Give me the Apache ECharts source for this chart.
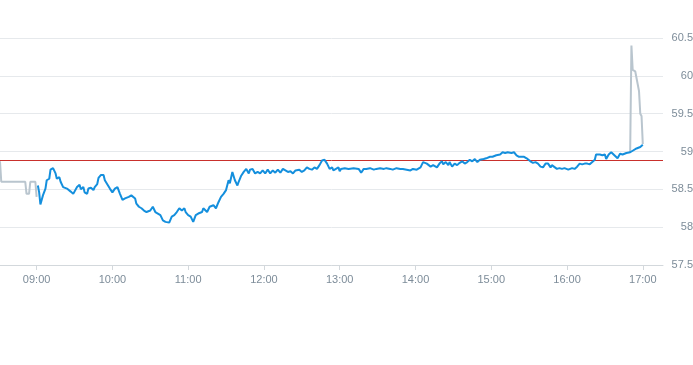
<!DOCTYPE html>
<html>
<head>
<meta charset="utf-8">
<script src="https://cdn.jsdelivr.net/npm/echarts@6/dist/echarts.min.js"></script>
<style>html,body{margin:0;padding:0;background:#fff}#c{width:693px;height:365px}</style>
</head>
<body>
<div id="c"></div>
<script>
// Regular session (blue)
const sessionTimes = ["09:01","09:02","09:03","09:05","09:07","09:08","09:10","09:11","09:13","09:15","09:16","09:18","09:19","09:21","09:22","09:24","09:25","09:27","09:29","09:30","09:32","09:34","09:35","09:37","09:38","09:40","09:41","09:43","09:45","09:46","09:48","09:49","09:51","09:53","09:54","09:55","09:58","10:00","10:02","10:04","10:06","10:08","10:10","10:13","10:15","10:16","10:18","10:19","10:21","10:23","10:25","10:27","10:30","10:32","10:34","10:36","10:38","10:40","10:42","10:43","10:45","10:47","10:49","10:51","10:53","10:55","10:57","10:58","11:00","11:02","11:04","11:06","11:08","11:11","11:12","11:15","11:17","11:20","11:22","11:24","11:26","11:28","11:30","11:32","11:33","11:35","11:36","11:37","11:39","11:40","11:42","11:44","11:46","11:48","11:49","11:51","11:53","11:55","11:57","11:59","12:01","12:03","12:05","12:07","12:09","12:11","12:13","12:15","12:17","12:19","12:21","12:23","12:25","12:26","12:28","12:30","12:31","12:32","12:34","12:36","12:38","12:40","12:42","12:44","12:46","12:47","12:48","12:50","12:51","12:52","12:54","12:55","12:57","12:59","13:00","13:01","13:04","13:07","13:11","13:15","13:17","13:19","13:21","13:24","13:27","13:29","13:32","13:35","13:37","13:40","13:42","13:45","13:48","13:50","13:53","13:56","13:58","14:01","14:04","14:06","14:07","14:09","14:12","14:14","14:17","14:19","14:21","14:22","14:24","14:26","14:27","14:29","14:31","14:33","14:35","14:37","14:39","14:41","14:43","14:45","14:47","14:49","14:51","14:54","14:56","14:59","15:01","15:04","15:07","15:09","15:11","15:13","15:14","15:16","15:18","15:20","15:22","15:24","15:26","15:28","15:29","15:31","15:32","15:33","15:35","15:37","15:39","15:41","15:43","15:44","15:45","15:47","15:48","15:49","15:52","15:54","15:56","15:58","16:01","16:02","16:04","16:06","16:08","16:10","16:12","16:14","16:16","16:18","16:20","16:22","16:23","16:24","16:26","16:28","16:30","16:31","16:33","16:35","16:36","16:40","16:42","16:44","16:47","16:50","16:52","16:55","16:58","17:00"];
const sessionValues = [58.55,58.46,58.30,58.42,58.51,58.62,58.64,58.76,58.78,58.71,58.64,58.66,58.60,58.53,58.55,58.51,58.53,58.47,58.44,58.43,58.53,58.56,58.50,58.53,58.46,58.44,58.51,58.52,58.49,58.53,58.57,58.65,58.69,58.69,58.62,58.60,58.51,58.46,58.51,58.53,58.44,58.36,58.38,58.40,58.42,58.43,58.38,58.31,58.27,58.25,58.22,58.20,58.22,58.27,58.20,58.18,58.16,58.09,58.07,58.09,58.06,58.14,58.16,58.20,58.25,58.22,58.25,58.20,58.16,58.14,58.07,58.16,58.18,58.20,58.25,58.20,58.27,58.29,58.25,58.33,58.40,58.44,58.49,58.62,58.58,58.73,58.71,58.62,58.55,58.60,58.68,58.73,58.77,58.71,58.76,58.77,58.71,58.73,58.71,58.75,58.71,58.76,58.71,58.75,58.72,58.76,58.72,58.77,58.75,58.73,58.74,58.71,58.75,58.73,58.76,58.73,58.71,58.75,58.79,58.77,58.76,58.79,58.77,58.82,58.88,58.90,58.89,58.84,58.82,58.77,58.79,58.75,58.77,58.79,58.74,58.77,58.78,58.77,58.78,58.77,58.72,58.77,58.77,58.78,58.76,58.77,58.78,58.77,58.78,58.77,58.76,58.78,58.77,58.77,58.76,58.75,58.77,58.76,58.79,58.86,58.87,58.84,58.80,58.82,58.79,58.84,58.87,58.83,58.86,58.82,58.86,58.80,58.84,58.82,58.85,58.87,58.84,58.86,58.89,58.87,58.90,58.86,58.89,58.90,58.91,58.93,58.93,58.95,58.96,58.99,58.98,58.99,59.00,58.98,58.99,58.95,58.93,58.93,58.93,58.91,58.89,58.87,58.88,58.85,58.86,58.84,58.80,58.79,58.84,58.86,58.84,58.79,58.82,58.80,58.77,58.78,58.77,58.78,58.76,58.75,58.78,58.77,58.80,58.84,58.83,58.84,58.84,58.83,58.86,58.89,58.96,58.97,58.96,58.95,58.96,58.90,58.96,58.99,58.99,58.91,58.97,58.96,58.98,58.99,59.01,59.04,59.06,59.09];

// Pre-market (grey)
const preTimes = ["08:31","08:32","08:51","08:52","08:54","08:55","08:59","09:00"];
const preValues = [58.87,58.60,58.60,58.44,58.44,58.60,58.60,58.40];

// Closing auction (grey)
const postTimes = ["16:50","16:51","16:52","16:54","16:57","16:58","16:59","17:00"];
const postValues = [58.99,60.40,60.08,60.06,59.80,59.50,59.47,59.10];

const prevClose = 58.88;
const xTickLabels = ["09:00","10:00","11:00","12:00","13:00","14:00","15:00","16:00","17:00"];
const axisStart = "08:31";
const axisEnd = "17:16";

function toMin(s){ const p = s.split(":"); return (+p[0])*60 + (+p[1]); }
function fmt(m){ const h = Math.floor(m/60), mm = Math.round(m%60); return (h<10?"0":"")+h+":"+(mm<10?"0":"")+mm; }
function pairs(t, v){ return t.map((s,i)=>[toMin(s), v[i]]); }
const tickVals = xTickLabels.map(toMin);

const chart = echarts.init(document.getElementById('c'), null, {renderer:'canvas'});
const lblColor = '#7d8c99';
chart.setOption({
  animation: false,
  backgroundColor: '#ffffff',
  textStyle: { fontFamily: 'Liberation Sans, Arial, sans-serif' },
  grid: { left: 0, right: 30, top: 38, bottom: 100, containLabel: false, outerBoundsMode: 'none' },
  xAxis: {
    type: 'value',
    min: toMin(axisStart), max: toMin(axisEnd),
    axisLine: { show: true, lineStyle: { color: '#d3d8dc', width: 1 } },
    axisTick: { show: true, customValues: tickVals, length: 5, lineStyle: { color: '#d3d8dc' } },
    axisLabel: { show: true, customValues: tickVals, formatter: v => fmt(v), color: lblColor, fontSize: 11, margin: 9 },
    splitLine: { show: false }
  },
  yAxis: {
    type: 'value', position: 'right',
    min: 57.5, max: 60.5, interval: 0.5,
    axisLine: { show: false }, axisTick: { show: false },
    axisLabel: { color: lblColor, fontSize: 11, align: 'right', margin: 30 },
    splitLine: { show: true, lineStyle: { color: '#e6e9ec', width: 1 } }
  },
  series: [
    { type: 'line', data: pairs(preTimes, preValues), showSymbol: false, symbol: 'none',
      lineStyle: { color: '#b9c5ce', width: 2 }, z: 2,
      markLine: { z: 1, silent: true, symbol: ['none','none'], label: { show: false },
        lineStyle: { color: '#c9302c', width: 1, type: 'solid' },
        data: [{ yAxis: prevClose }] } },
    { type: 'line', data: pairs(postTimes, postValues), showSymbol: false, symbol: 'none',
      lineStyle: { color: '#b9c5ce', width: 2 }, z: 3 },
    { type: 'line', data: pairs(sessionTimes, sessionValues), showSymbol: false, symbol: 'none',
      lineStyle: { color: '#148fdd', width: 2 }, z: 10 }
  ]
});
</script>
</body>
</html>
